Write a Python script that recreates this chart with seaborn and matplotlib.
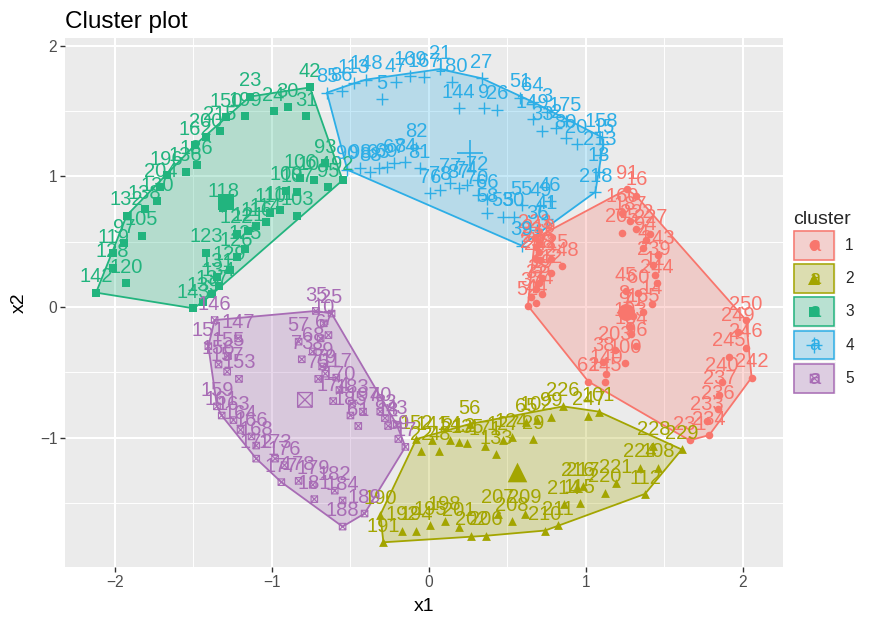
import numpy as np
import pandas as pd
import matplotlib
matplotlib.use("Agg")
import matplotlib.pyplot as plt
import seaborn as sns
from matplotlib.path import Path
from matplotlib.patches import Rectangle, Polygon
from matplotlib.lines import Line2D
from matplotlib.text import Text
from matplotlib.legend_handler import HandlerBase

# ---------------- data ----------------
# cluster 1
c1_lab = [91, 16, 160, 187, 222, 205, 227, 94, 4, 243, 239, 11, 244, 45, 60, 14, 8, 1,
          165, 71, 193, 154, 96, 203, 100, 38, 140, 145, 62,
          223, 219, 232, 235, 238, 241, 225, 248, 12, 19, 28, 32, 34, 37, 44, 52,
          250, 249, 246, 245, 242, 240, 237, 236, 233, 234, 231]
c1_x = [1.26, 1.32, 1.23, 1.28, 1.32, 1.23, 1.41, 1.38, 1.365, 1.46, 1.43, 1.44, 1.45, 1.255,
        1.33, 1.42, 1.24, 1.26, 1.365, 1.30, 1.28, 1.29, 1.32, 1.185, 1.25, 1.11, 1.13, 1.12,
        1.015,
        0.675, 0.70, 0.685, 0.70, 0.685, 0.71, 0.78, 0.845, 0.78, 0.72, 0.70, 0.685, 0.72,
        0.65, 0.685, 0.63,
        2.02, 1.97, 2.02, 1.91, 2.055, 1.865, 1.85, 1.84, 1.77, 1.785, 1.66]
c1_y = [0.90, 0.85, 0.72, 0.66, 0.60, 0.57, 0.56, 0.51, 0.45, 0.40, 0.32, 0.245, 0.18, 0.12,
        0.105, 0.02, -0.02, -0.05, -0.04, -0.07, -0.15, -0.21, -0.30, -0.33, -0.43, -0.42,
        -0.51, -0.57, -0.57,
        0.525, 0.49, 0.46, 0.42, 0.37, 0.36, 0.37, 0.31, 0.26, 0.22, 0.18, 0.14, 0.10,
        0.08, 0.03, 0.01,
        -0.10, -0.19, -0.31, -0.38, -0.54, -0.57, -0.67, -0.78, -0.87, -0.98, -1.02]

# cluster 2
c2_lab = [152, 22, 141, 48, 54, 212, 135, 56, 171, 133, 127, 124, 29, 65, 102, 99, 226, 247,
          101, 228, 229, 224, 108, 221, 220, 217, 216, 112, 115, 214, 211, 210, 209, 208, 207,
          206, 202, 201, 198, 195, 194, 192, 191, 190]
c2_x = [-0.08, -0.05, 0.02, 0.066, 0.134, 0.19, 0.245, 0.26, 0.357, 0.43, 0.47, 0.527, 0.665,
        0.62, 0.686, 0.78, 0.855, 1.015, 1.08, 1.43, 1.61, 1.345, 1.46, 1.19, 1.12, 0.98,
        0.945, 1.376, 0.96, 0.86, 0.82, 0.74, 0.61, 0.53, 0.44, 0.363, 0.27, 0.19, 0.10,
        0.006, -0.08, -0.17, -0.29, -0.31]
c2_y = [-1.01, -1.10, -1.02, -1.10, -1.02, -1.035, -1.04, -0.895, -1.06, -1.125, -1.02,
        -0.997, -1.01, -0.88, -0.865, -0.84, -0.76, -0.83, -0.80, -1.06, -1.09, -1.23, -1.23,
        -1.35, -1.42, -1.37, -1.375, -1.43, -1.50, -1.51, -1.67, -1.71, -1.58, -1.64, -1.58,
        -1.75, -1.75, -1.68, -1.635, -1.67, -1.71, -1.71, -1.80, -1.59]

# cluster 3
c3_lab = [42, 23, 24, 30, 31, 199, 150, 215, 200, 162, 186, 136, 196, 204, 130, 138, 132,
          105, 97, 119, 128, 120, 142, 93, 104, 106, 95, 92, 107, 109, 111, 103, 110, 114,
          116, 121, 122, 125, 123, 126, 129, 131, 134, 137, 139, 143, 118]
c3_x = [-0.758, -1.14, -0.99, -0.90, -0.78, -1.17, -1.29, -1.33, -1.42, -1.49, -1.48, -1.55,
        -1.67, -1.71, -1.73, -1.81, -1.925, -1.83, -1.94, -2.01, -2.015, -1.93, -2.12, -0.66,
        -0.73, -0.82, -0.64, -0.55, -0.84, -0.91, -0.95, -0.84, -1.01, -1.04, -1.10, -1.15,
        -1.225, -1.17, -1.42, -1.225, -1.27, -1.35, -1.34, -1.38, -1.44, -1.50, -1.31]
c3_y = [1.68, 1.61, 1.50, 1.53, 1.46, 1.46, 1.45, 1.35, 1.30, 1.24, 1.09, 1.035, 1.01, 0.915,
        0.81, 0.75, 0.70, 0.545, 0.49, 0.41, 0.30, 0.18, 0.11, 1.10, 0.97, 0.985, 0.915,
        0.97, 0.88, 0.89, 0.74, 0.70, 0.72, 0.65, 0.62, 0.58, 0.56, 0.44, 0.415, 0.385,
        0.28, 0.23, 0.16, 0.10, 0.04, -0.01, 0.76]

# cluster 4
c4_lab = [85, 86, 113, 148, 5, 47, 169, 167, 21, 180, 27, 144, 9, 26, 51, 64, 149, 33, 3,
          175, 2, 80, 20, 158, 15, 213, 13, 218, 90, 98, 88, 63, 69, 67, 84, 82, 81, 76, 78,
          77, 87, 74, 72, 70, 66, 58, 53, 50, 55, 49, 41, 46, 39, 36]
c4_x = [-0.65, -0.556, -0.48, -0.40, -0.30, -0.21, -0.12, -0.03, 0.07, 0.145, 0.335, 0.19,
        0.35, 0.435, 0.58, 0.66, 0.66, 0.72, 0.75, 0.87, 0.81, 0.87, 0.94, 1.10, 1.11, 1.09,
        1.08, 1.06, -0.52, -0.44, -0.375, -0.32, -0.27, -0.22, -0.15, -0.08, -0.06, 0.006,
        0.07, 0.134, 0.19, 0.24, 0.31, 0.31, 0.37, 0.37, 0.47, 0.54, 0.59, 0.71, 0.75, 0.77,
        0.59, 0.69]
c4_y = [1.64, 1.65, 1.71, 1.74, 1.59, 1.72, 1.77, 1.76, 1.82, 1.72, 1.75, 1.52, 1.52, 1.51,
        1.60, 1.57, 1.44, 1.35, 1.49, 1.42, 1.37, 1.29, 1.25, 1.30, 1.25, 1.16, 1.035, 0.88,
        1.05, 1.06, 1.035, 1.06, 1.07, 1.10, 1.11, 1.22, 1.06, 0.87, 0.895, 0.95, 0.91, 0.93,
        0.97, 0.86, 0.83, 0.72, 0.69, 0.69, 0.78, 0.77, 0.67, 0.81, 0.47, 0.59]

# cluster 5
c5_lab = [146, 147, 151, 155, 156, 157, 153, 159, 161, 163, 164, 166, 168, 172, 173, 176,
          177, 178, 179, 181, 182, 184, 189, 188, 35, 25, 10, 7, 6, 57, 68, 73, 89, 79, 75,
          117, 170, 174, 183, 185, 197, 61, 40, 83, 18, 43, 59, 17]
c5_x = [-1.365, -1.215, -1.405, -1.28, -1.34, -1.285, -1.21, -1.35, -1.32, -1.245, -1.20,
        -1.13, -1.10, -1.10, -0.98, -0.92, -0.94, -0.83, -0.74, -0.73, -0.60, -0.55, -0.41,
        -0.55, -0.72, -0.62, -0.67, -0.64, -0.69, -0.83, -0.74, -0.81, -0.68, -0.66, -0.705,
        -0.59, -0.57, -0.61, -0.49, -0.50, -0.42, -0.45, -0.31, -0.28, -0.26, -0.205, -0.195,
        -0.15]
c5_y = [-0.10, -0.24, -0.30, -0.375, -0.44, -0.495, -0.55, -0.76, -0.83, -0.865, -0.94,
        -0.99, -1.06, -1.16, -1.16, -1.21, -1.34, -1.33, -1.36, -1.47, -1.405, -1.48, -1.58,
        -1.68, -0.03, -0.05, -0.125, -0.215, -0.24, -0.265, -0.34, -0.40, -0.455, -0.51,
        -0.55, -0.54, -0.635, -0.72, -0.74, -0.83, -0.80, -0.91, -0.80, -0.85, -0.91, -0.90,
        -1.01, -1.07]

# cluster centres
center_x = [1.255, 0.56, -1.295, 0.26, -0.79]
center_y = [-0.04, -1.26, 0.80, 1.18, -0.71]

cluster_ids = [1, 2, 3, 4, 5]
cluster_colors = ["#F8766D", "#A3A500", "#22B47E", "#2DAEE6", "#A86CB5"]

x_ticks = [-2, -1, 0, 1, 2]
x_ticklabels = ["\u22122", "\u22121", "0", "1", "2"]
y_ticks = [-1, 0, 1, 2]
y_ticklabels = ["\u22121", "0", "1", "2"]

# ---------------- table ----------------
frames = []
for cid, xs, ys, labs in zip(cluster_ids,
                             [c1_x, c2_x, c3_x, c4_x, c5_x],
                             [c1_y, c2_y, c3_y, c4_y, c5_y],
                             [c1_lab, c2_lab, c3_lab, c4_lab, c5_lab]):
    frames.append(pd.DataFrame({"x1": xs, "x2": ys, "label": labs, "cluster": cid}))
df = pd.concat(frames, ignore_index=True)
centers = pd.DataFrame({"x1": center_x, "x2": center_y, "cluster": cluster_ids})
palette = dict(zip(cluster_ids, cluster_colors))

# square with a cross inside (ggplot shape 7)
box_cross = Path(
    [(-1, -1), (1, -1), (1, 1), (-1, 1), (-1, -1),
     (-1, -1), (1, 1), (-1, 1), (1, -1)],
    [Path.MOVETO, Path.LINETO, Path.LINETO, Path.LINETO, Path.CLOSEPOLY,
     Path.MOVETO, Path.LINETO, Path.MOVETO, Path.LINETO])

marker_spec = {
    1: dict(marker="o", s=30, linewidth=0),
    2: dict(marker="^", s=40, linewidth=0),
    3: dict(marker="s", s=28, linewidth=0),
    4: dict(marker="+", s=75, linewidth=1.0),
    5: dict(marker=box_cross, s=22, linewidth=0.8, facecolor="none"),
}


def convex_hull(points):
    pts = sorted(set(points))

    def cross(o, a, b):
        return (a[0] - o[0]) * (b[1] - o[1]) - (a[1] - o[1]) * (b[0] - o[0])

    lower, upper = [], []
    for p in pts:
        while len(lower) >= 2 and cross(lower[-2], lower[-1], p) <= 0:
            lower.pop()
        lower.append(p)
    for p in reversed(pts):
        while len(upper) >= 2 and cross(upper[-2], upper[-1], p) <= 0:
            upper.pop()
        upper.append(p)
    return lower[:-1] + upper[:-1]


# ---------------- style ----------------
sns.set_theme(style="darkgrid", rc={
    "axes.facecolor": "#EBEBEB",
    "grid.color": "white",
    "axes.edgecolor": "none",
    "xtick.color": "#333333",
    "ytick.color": "#333333",
    "xtick.labelcolor": "#4D4D4D",
    "ytick.labelcolor": "#4D4D4D",
    "xtick.bottom": True,
    "ytick.left": True,
    "xtick.major.size": 3.5,
    "ytick.major.size": 3.5,
    "xtick.major.width": 1.0,
    "ytick.major.width": 1.0,
    "axes.unicode_minus": True,
})
plt.rcParams["font.family"] = ["Liberation Sans", "DejaVu Sans"]

fig = plt.figure(figsize=(8.79, 6.2), dpi=100)
ax = fig.add_axes([65 / 879, 1 - 567 / 620, (783 - 65) / 879, (567 - 38) / 620])

# hulls
for cid in cluster_ids:
    sub = df[df.cluster == cid]
    hull = convex_hull(list(zip(sub.x1, sub.x2)))
    col = palette[cid]
    ax.add_patch(Polygon(hull, closed=True, facecolor=col, alpha=0.27,
                         edgecolor="none", zorder=1))
    ax.add_patch(Polygon(hull, closed=True, fill=False, edgecolor=col,
                         linewidth=1.3, zorder=1.2))

# points
for cid in cluster_ids:
    sub = df[df.cluster == cid]
    spec = dict(marker_spec[cid])
    col = palette[cid]
    kws = dict(color=col, edgecolor=col, zorder=3, legend=False)
    kws.update(spec)
    sns.scatterplot(data=sub, x="x1", y="x2", ax=ax, **kws)

# point labels
for x, y, lab, cid in zip(df["x1"], df["x2"], df["label"], df["cluster"]):
    ax.annotate(str(int(lab)), (x, y), xytext=(0, 7.5),
                textcoords="offset points", ha="center", va="baseline",
                fontsize=14.5, color=palette[int(cid)], zorder=4)

# centres
for cid in cluster_ids:
    sub = centers[centers.cluster == cid]
    spec = dict(marker_spec[cid])
    spec["s"] = spec["s"] * 5
    if cid in (4, 5):
        spec["linewidth"] = spec["linewidth"] * 1.2
    col = palette[cid]
    kws = dict(color=col, edgecolor=col, zorder=5, legend=False)
    kws.update(spec)
    sns.scatterplot(data=sub, x="x1", y="x2", ax=ax, **kws)

# axes
ax.set_xlim(-2.318, 2.255)
ax.set_ylim(-1.989, 2.058)
ax.set_xticks(x_ticks)
ax.set_xticklabels(x_ticklabels, fontsize=11.2)
ax.set_yticks(y_ticks)
ax.set_yticklabels(y_ticklabels, fontsize=11.2)
ax.set_xticks([-1.5, -0.5, 0.5, 1.5], minor=True)
ax.set_yticks([-1.5, -0.5, 0.5, 1.5], minor=True)
ax.tick_params(which="minor", length=0)
ax.tick_params(which="major", pad=2)
ax.grid(which="major", color="white", linewidth=1.45)
ax.grid(which="minor", color="white", linewidth=0.7)
ax.set_axisbelow(True)
for sp in ax.spines.values():
    sp.set_visible(False)
ax.set_xlabel("x1", fontsize=14, color="black", labelpad=6)
ax.set_ylabel("x2", fontsize=14, color="black", labelpad=9)
ax.set_title("Cluster plot", loc="left", fontsize=17.5, color="black", pad=7)


# legend keys: filled square, point symbol and text glyph
class KeyHandler(HandlerBase):
    def __init__(self, cid):
        super().__init__()
        self.cid = cid

    def create_artists(self, legend, orig_handle, xdescent, ydescent,
                       width, height, fontsize, trans):
        col = palette[self.cid]
        x0, y0 = -xdescent, -ydescent
        bg = Rectangle((x0, y0), width, height, facecolor="#F2F2F2",
                       edgecolor="none", transform=trans)
        rect = Rectangle((x0 + 1, y0 + 1), width - 2, height - 2,
                         facecolor=matplotlib.colors.to_rgba(col, 0.27),
                         edgecolor=col, linewidth=1.1, transform=trans)
        cx, cy = x0 + width / 2, y0 + height / 2
        spec = marker_spec[self.cid]
        mk = spec["marker"]
        ms = np.sqrt(spec["s"]) * 1.3
        filled = self.cid in (1, 2, 3)
        pt = Line2D([cx], [cy], marker=mk, markersize=ms, linestyle="none",
                    markerfacecolor=col if filled else "none",
                    markeredgecolor=col,
                    markeredgewidth=spec["linewidth"] if not filled else 0,
                    transform=trans)
        txt = Text(cx, cy, "a", ha="center", va="center", color=col,
                   fontsize=14.5, transform=trans)
        return [bg, rect, pt, txt]


handles = [Line2D([], []) for _ in cluster_ids]
hmap = {h: KeyHandler(cid) for h, cid in zip(handles, cluster_ids)}
leg = ax.legend(handles, [str(c) for c in cluster_ids], handler_map=hmap,
                loc="center left", bbox_to_anchor=(1.014, 0.5), frameon=False,
                title="cluster", fontsize=11.2, title_fontsize=14,
                handlelength=2.75, handleheight=2.75, handletextpad=0.6,
                labelspacing=0.1, borderpad=0, borderaxespad=0,
                alignment="left")

fig.savefig("out.png", dpi=100)
